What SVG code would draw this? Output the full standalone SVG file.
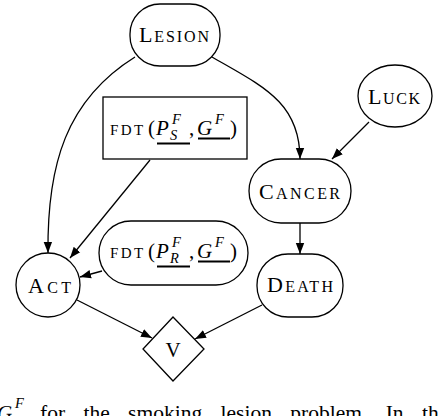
<svg xmlns="http://www.w3.org/2000/svg" width="446" height="416" viewBox="0 0 446 416">
<defs>
<marker id="arr" markerUnits="userSpaceOnUse" markerWidth="12" markerHeight="10" refX="11" refY="5" orient="auto">
<path d="M0,0.8 L11,5 L0,9.2 Z" fill="#000"/>
</marker>
<style>
.n{fill:#fff;stroke:#000;stroke-width:1.3}
.e{fill:none;stroke:#000;stroke-width:1.3;marker-end:url(#arr)}
text{font-family:"Liberation Serif","DejaVu Serif",serif;fill:#000}
.big{font-size:22px}
.sc{font-size:16px}
.it{font-style:italic}
</style>
</defs>
<rect width="446" height="416" fill="#fff"/>
<g id="edges">
<path class="e" d="M135,57 C66,100 47,165 48,253"/>
<path class="e" d="M212,57 C262,86 300,102 300,159"/>
<path class="e" d="M150,160 L70,258"/>
<path class="e" d="M102,271 L80,277"/>
<path class="e" d="M369,122 L332,159"/>
<path class="e" d="M300,223 L300,254"/>
<path class="e" d="M77,300 L152,338"/>
<path class="e" d="M262,305 L195,339"/>
</g>
<g id="lesion">
<rect class="n" x="130" y="4" width="90" height="62" rx="30" ry="30"/>
<text x="139" y="42" textLength="70" lengthAdjust="spacing"><tspan class="big">L</tspan><tspan class="sc">ESION</tspan></text>
</g>
<g id="luck">
<ellipse class="n" cx="395" cy="96" rx="37" ry="31"/>
<text x="368" y="104" textLength="52" lengthAdjust="spacing"><tspan class="big">L</tspan><tspan class="sc">UCK</tspan></text>
</g>
<g id="fdt_s">
<rect class="n" x="103" y="97" width="144" height="62"/>
<text y="135"><tspan x="110" font-size="15" letter-spacing="2.4">FDT</tspan><tspan x="148" font-size="21">(</tspan><tspan x="156" class="it" font-size="21">P</tspan><tspan x="172" y="124" class="it" font-size="14.5">F</tspan><tspan x="170" y="140" class="it" font-size="14.5">S</tspan><tspan x="189" y="135" font-size="21">,</tspan><tspan x="197" class="it" font-size="21">G</tspan><tspan x="215" y="124" class="it" font-size="14.5">F</tspan><tspan x="230" y="135" font-size="21">)</tspan></text>
<rect x="157" y="142.5" width="33" height="2" fill="#000"/>
<rect x="198" y="137.5" width="32" height="2" fill="#000"/>
</g>
<g id="cancer">
<rect class="n" x="249" y="159" width="102" height="64" rx="32" ry="32"/>
<text x="259" y="199" textLength="81" lengthAdjust="spacing"><tspan class="big">C</tspan><tspan class="sc">ANCER</tspan></text>
</g>
<g id="fdt_r">
<rect class="n" x="99" y="221" width="149" height="64" rx="32" ry="32"/>
<text y="258"><tspan x="110" font-size="15" letter-spacing="2.4">FDT</tspan><tspan x="148" font-size="21">(</tspan><tspan x="156" class="it" font-size="21">P</tspan><tspan x="172" y="247" class="it" font-size="14.5">F</tspan><tspan x="170" y="263" class="it" font-size="14.5">R</tspan><tspan x="189" y="258" font-size="21">,</tspan><tspan x="197" class="it" font-size="21">G</tspan><tspan x="215" y="247" class="it" font-size="14.5">F</tspan><tspan x="230" y="258" font-size="21">)</tspan></text>
<rect x="157" y="265.5" width="33" height="2" fill="#000"/>
<rect x="198" y="260.5" width="32" height="2" fill="#000"/>
</g>
<g id="act">
<circle class="n" cx="48" cy="285" r="32"/>
<text x="28" y="293" textLength="43" lengthAdjust="spacing"><tspan class="big">A</tspan><tspan class="sc">CT</tspan></text>
</g>
<g id="death">
<rect class="n" x="257" y="254" width="86" height="63" rx="31" ry="31"/>
<text x="267" y="292" textLength="66" lengthAdjust="spacing"><tspan class="big">D</tspan><tspan class="sc">EATH</tspan></text>
</g>
<g id="v">
<path class="n" d="M173,317 L204,349 L173,381 L143,349 Z"/>
<text x="173" y="357" text-anchor="middle" font-size="21">V</text>
</g>
<g id="caption">
<text y="420" font-size="21"><tspan x="-3" class="it">G</tspan><tspan x="15" y="408" class="it" font-size="14.5">F</tspan></text>
<text x="40" y="420" font-size="21.5" word-spacing="13">for the smoking lesion problem. In th</text>
</g>
</svg>
